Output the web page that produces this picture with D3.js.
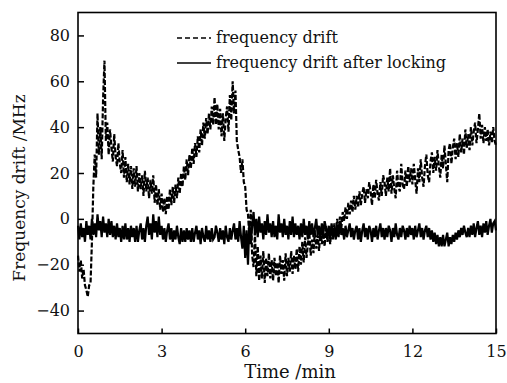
<!DOCTYPE html>
<html>
<head>
<meta charset="utf-8">
<script src="https://cdn.jsdelivr.net/npm/d3@7"></script>
<style>
  body { margin: 0; background: #fff; }
  svg text { font-family: "DejaVu Serif", serif; fill: #111; }
</style>
</head>
<body>
<div id="chart"></div>
<script>
// sampling step of the recorded traces (min)
var step = 0.05;

// frequency drift, free running (MHz), one row per minute
var freqDrift = [
  -16, -23, -18, -26, -22, -29, -31, -34, -29, -28, -10, 14, 28, 18, 46, 28, 40, 26, 52, 69,
  34, 42, 28, 39, 31, 25, 37, 27, 23, 33, 24, 20, 30, 18, 27, 16, 24, 15, 23, 13,
  22, 14, 23, 12, 20, 13, 19, 10, 21, 12, 18, 9, 17, 11, 19, 7, 15, 6, 13, 4,
  11, 3, 9, 2, 10, 4, 13, 6, 14, 7, 15, 9, 18, 11, 20, 14, 23, 17, 26, 19,
  28, 22, 31, 24, 33, 27, 36, 29, 39, 32, 42, 35, 44, 37, 46, 39, 49, 41, 53, 41,
  50, 39, 48, 36, 46, 34, 44, 49, 38, 54, 43, 60, 46, 56, 34, 30, 27, 20, 26, 16,
  14, 4, 2, -8, 4, -16, -21, -6, -25, -12, -27, -16, -26, -14, -28, -17, -25, -15, -26, -18,
  -27, -17, -25, -19, -28, -16, -24, -18, -27, -15, -25, -17, -23, -14, -24, -16, -22, -13, -23, -12,
  -20, -10, -19, -8, -17, -11, -6, -16, -9, -15, -5, -13, -7, -14, -4, -11, -6, -12, -3, -10,
  -5, -11, -3, -9, -2, -8, 0, -6, 1, -4, 3, -1, 5, 0, 7, 2, 8, 3, 10, 4,
  10, 5, 12, 6, 11, 14, 7, 13, 9, 16, 12, 6, 15, 9, 17, 11, 8, 16, 10, 19,
  16, 10, 18, 12, 22, 11, 19, 13, 9, 21, 14, 12, 24, 15, 13, 21, 14, 23, 16, 22,
  15, 24, 17, 11, 22, 16, 26, 18, 14, 23, 28, 19, 16, 25, 29, 20, 27, 21, 30, 23,
  18, 28, 22, 32, 24, 16, 30, 33, 24, 31, 35, 26, 33, 27, 37, 29, 35, 28, 39, 31,
  37, 30, 40, 32, 38, 42, 33, 39, 46, 35, 41, 33, 40, 34, 39, 32, 38, 33, 40, 34,
  32
];

// frequency drift after locking (MHz)
var lockedDrift = [
  -3, -9, -2, -8, -4, -10, -1, -7, -3, -9, 0, -7, -2, -8, 2, -5, -1, -8, 1, -6,
  -2, -8, 0, -7, -1, -8, -3, -9, -2, -8, -4, -10, -3, -9, -2, -9, -4, -10, -3, -8,
  -4, -10, -3, -10, -5, -2, -9, -4, -10, -3, 1, -7, -2, -9, 2, -6, -1, -8, 1, -7,
  -3, -9, -4, -10, -5, -2, -9, -4, -10, -5, -9, -3, -8, -11, -4, -10, -5, -10, -4, -9,
  -5, -10, -4, -10, -6, -3, -9, -5, -11, -4, -8, -10, -3, -9, -5, -10, -4, -9, -8, -3,
  -6, -10, -4, -9, -5, -11, -3, -8, -10, -4, -9, -5, -2, -9, -4, -10, -1, -8, -13, -3,
  -17, -5, -20, -1, -11, -3, 3, -7, 0, -8, 1, -6, -2, -9, -1, -7, 2, -6, -2, -8,
  -1, -8, -3, -9, 2, -6, -2, -8, 0, -7, -3, -9, -1, -7, 1, -8, -2, -7, -3, -9,
  -2, -8, 0, -7, -3, -9, -1, -7, -2, -8, -4, 0, -7, -3, -9, -2, -7, -1, -4, -8,
  -3, -9, -2, -8, -4, -9, -3, -8, -1, -7, -4, -9, -3, -8, -5, -2, -8, -4, -9, -5,
  -3, -9, -4, -10, -5, -2, -8, -4, -9, -3, -5, -10, -4, -8, -3, -9, -5, -2, -8, -4,
  -9, -4, -8, -3, -5, -10, -4, -8, -2, -7, -9, -4, -8, -3, -5, -9, -4, -8, -3, -7,
  -4, -9, -3, -8, -5, -2, -8, -4, -9, -5, -3, -8, -4, -9, -5, -10, -6, -11, -7, -12,
  -8, -12, -7, -12, -9, -6, -12, -8, -11, -7, -10, -6, -9, -5, -8, -4, -7, -3, -6, -8,
  -4, -8, -3, -7, -2, -8, -4, -1, -7, -3, -8, -2, -6, -1, -7, -3, 0, -6, -2, -1,
  -5
];

var xTicks = [0, 3, 6, 9, 12, 15];
var yTicks = [-40, -20, 0, 20, 40, 60, 80];
var legendLabels = ["frequency drift", "frequency drift after locking"];

var width = 507, height = 383;
var margin = {top: 12.5, right: 11, bottom: 49.5, left: 78};
var w = width - margin.left - margin.right,
    h = height - margin.top - margin.bottom;

var x = d3.scaleLinear().domain([0, 15]).range([0, w]);
var y = d3.scaleLinear().domain([-50, 90]).range([h, 0]);

var svg = d3.select("#chart").append("svg")
    .attr("width", width)
    .attr("height", height);

var g = svg.append("g")
    .attr("transform", "translate(" + margin.left + "," + margin.top + ")");

var line = d3.line()
    .x(function(d, i) { return x(i * step); })
    .y(function(d) { return y(d); });

// traces
g.append("path")
    .attr("d", line(freqDrift))
    .attr("fill", "none")
    .attr("stroke", "#000")
    .attr("stroke-width", 2.2)
    .attr("stroke-dasharray", "5,2");

g.append("path")
    .attr("d", line(lockedDrift))
    .attr("fill", "none")
    .attr("stroke", "#000")
    .attr("stroke-width", 2.2);

// axes, ticks pointing inward
var xAxis = g.append("g")
    .attr("transform", "translate(0," + h + ")")
    .call(d3.axisBottom(x).tickValues(xTicks).tickSize(-5).tickPadding(12));

var yAxis = g.append("g")
    .call(d3.axisLeft(y).tickValues(yTicks).tickSize(-6).tickPadding(8));

[xAxis, yAxis].forEach(function(a) {
  a.select(".domain").remove();
  a.selectAll("line").attr("stroke", "#000").attr("stroke-width", 1.5);
  a.selectAll("text").style("font-size", "16px").attr("fill", "#111");
});

// frame
g.append("rect")
    .attr("width", w)
    .attr("height", h)
    .attr("fill", "none")
    .attr("stroke", "#000")
    .attr("stroke-width", 1.6);

// axis titles
svg.append("text")
    .attr("x", margin.left + w / 2 + 3)
    .attr("y", 378)
    .attr("text-anchor", "middle")
    .style("font-size", "18px")
    .text("Time /min");

svg.append("text")
    .attr("transform", "translate(25,188) rotate(-90)")
    .attr("text-anchor", "middle")
    .style("font-size", "17px")
    .text("Frequency drift /MHz");

// legend
var legend = svg.append("g").attr("transform", "translate(177,0)");
var legendY = [38, 63];
legendLabels.forEach(function(label, i) {
  legend.append("line")
      .attr("x1", 0).attr("x2", 34)
      .attr("y1", legendY[i]).attr("y2", legendY[i])
      .attr("stroke", "#000")
      .attr("stroke-width", 1.5)
      .attr("stroke-dasharray", i == 0 ? "5,3" : null);
  legend.append("text")
      .attr("x", 39)
      .attr("y", legendY[i])
      .attr("dy", "0.3em")
      .style("font-size", "16px")
      .text(label);
});
</script>
</body>
</html>
